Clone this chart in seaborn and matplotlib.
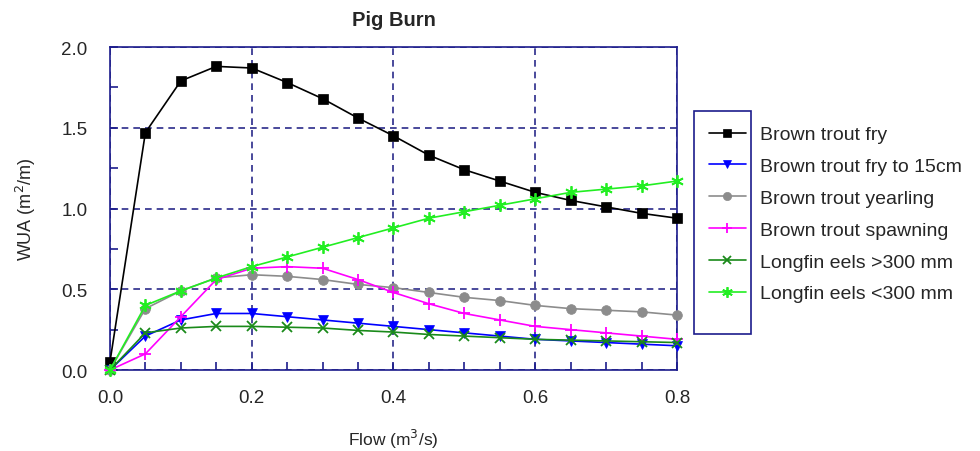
import numpy as np
import pandas as pd
import seaborn as sns
import matplotlib.pyplot as plt
from matplotlib.patches import Rectangle
from matplotlib.ticker import MultipleLocator

# data
flow = [0.0, 0.05, 0.1, 0.15, 0.2, 0.25, 0.3, 0.35, 0.4, 0.45, 0.5, 0.55, 0.6, 0.65, 0.7, 0.75, 0.8]
bt_fry = [0.05, 1.47, 1.79, 1.88, 1.87, 1.78, 1.68, 1.56, 1.45, 1.33, 1.24, 1.17, 1.10, 1.05, 1.01, 0.97, 0.94]
bt_fry_15 = [0.0, 0.21, 0.31, 0.35, 0.35, 0.33, 0.31, 0.29, 0.27, 0.25, 0.23, 0.21, 0.19, 0.18, 0.17, 0.16, 0.15]
bt_yearling = [0.0, 0.38, 0.49, 0.57, 0.59, 0.58, 0.56, 0.53, 0.51, 0.48, 0.45, 0.43, 0.40, 0.38, 0.37, 0.36, 0.34]
bt_spawning = [0.0, 0.10, 0.33, 0.56, 0.63, 0.64, 0.63, 0.56, 0.48, 0.41, 0.35, 0.31, 0.27, 0.25, 0.23, 0.21, 0.19]
eel_big = [0.0, 0.23, 0.26, 0.27, 0.27, 0.265, 0.26, 0.245, 0.235, 0.22, 0.21, 0.20, 0.19, 0.185, 0.18, 0.175, 0.17]
eel_small = [0.0, 0.40, 0.49, 0.57, 0.64, 0.70, 0.76, 0.82, 0.88, 0.94, 0.98, 1.02, 1.06, 1.10, 1.12, 1.14, 1.17]

names = ['Brown trout fry', 'Brown trout fry to 15cm', 'Brown trout yearling',
         'Brown trout spawning', 'Longfin eels >300 mm', 'Longfin eels <300 mm']
series = [bt_fry, bt_fry_15, bt_yearling, bt_spawning, eel_big, eel_small]

# styling per series
colors = ['black', '#0000ff', '#8c8c8c', '#ff00ff', '#1a8a1a', '#22ee22']
markers = ['s', 'v', 'o', '+', 'x', (6, 2, 0)]
msizes = [7, 7, 7, 9, 7, 9]

df = pd.DataFrame({'Flow': flow * len(names),
                   'WUA': sum(series, []),
                   'Species': np.repeat(names, len(flow))})

sns.set_theme(style="white")
plt.rcParams['font.family'] = ['Liberation Sans', 'DejaVu Sans']

navy = '#1c1c8c'
fig = plt.figure(figsize=(9.8, 4.52), dpi=100)
ax = fig.add_axes([0.1122, 0.1792, 0.5786, 0.7146])

for name, c, m, ms in zip(names, colors, markers, msizes):
    sub = df[df['Species'] == name]
    sns.lineplot(data=sub, x='Flow', y='WUA', color=c, marker=m, markersize=ms,
                 markeredgecolor=c, markeredgewidth=1.3 if m in ('+', 'x', (6, 2, 0)) else 0.5,
                 linewidth=1.2, label=name, ax=ax, clip_on=False, zorder=3)

ax.set_xlim(0, 0.8)
ax.set_ylim(0, 2.0)
ax.xaxis.set_major_locator(MultipleLocator(0.2))
ax.xaxis.set_minor_locator(MultipleLocator(0.05))
ax.yaxis.set_major_locator(MultipleLocator(0.5))
ax.yaxis.set_minor_locator(MultipleLocator(0.25))
ax.set_xticklabels([f'{v:.1f}' for v in ax.get_xticks()])
ax.set_yticklabels([f'{v:.1f}' for v in ax.get_yticks()])
ax.tick_params(which='both', direction='in', color=navy, width=1.2, labelsize=13.5,
               bottom=True, left=True)
ax.tick_params(which='major', length=6, pad=14)
ax.tick_params(which='minor', length=6)
ax.tick_params(axis='y', which='major', pad=16)
ax.grid(True, which='major', color='#2a2a8a', linestyle=(0, (4, 3)), linewidth=1.2)
for s in ax.spines.values():
    s.set_color(navy)
    s.set_linewidth(1.2)

ax.set_title('Pig Burn', fontsize=14.5, fontweight='bold', pad=16)
ax.set_xlabel('Flow (m$^3$/s)', fontsize=12.5, labelpad=15)
ax.set_ylabel('WUA (m$^2$/m)', fontsize=13, labelpad=17)

leg = ax.legend(loc='upper left', bbox_to_anchor=(701 / 980, 1 - 119 / 452),
                bbox_transform=fig.transFigure, frameon=False, fontsize=14,
                handlelength=1.9, handletextpad=0.75, labelspacing=0.73,
                borderaxespad=0, markerscale=0.85)

fig.patches.append(Rectangle((694 / 980, 1 - 335 / 452), 57 / 980, 223 / 452,
                             transform=fig.transFigure, fill=False,
                             edgecolor=navy, linewidth=1.2))

plt.savefig('out.png', dpi=100)
